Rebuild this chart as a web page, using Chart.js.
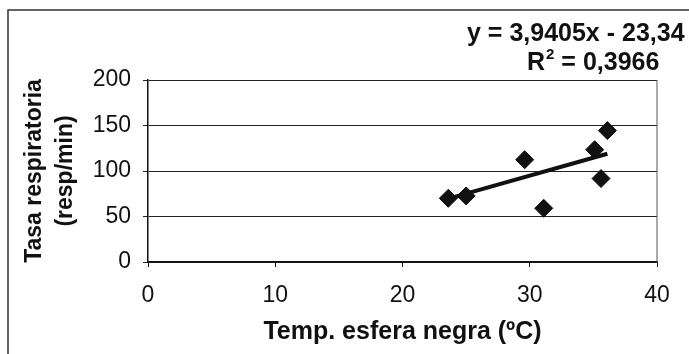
<!DOCTYPE html>
<html>
<head>
<meta charset="utf-8">
<script src="https://cdn.jsdelivr.net/npm/chart.js@4.4.1/dist/chart.umd.min.js"></script>
<style>
  html, body { margin: 0; padding: 0; background: #fff; }
  #wrap { width: 689px; height: 354px; position: relative; }
</style>
</head>
<body>
<div id="wrap"><canvas id="chart" width="689" height="354"></canvas></div>
<script>
// Temp. esfera negra (ºC) vs tasa respiratoria (resp/min)
const tempValues = [23.6, 25.0, 29.6, 31.1, 35.1, 35.6, 36.1];
const rateValues = [70, 72.6, 112.4, 59, 123.4, 91.7, 144.4];

// trendline as printed on the chart
const trendSlope = 3.9405;
const trendIntercept = -23.346;
const equationLabel = 'y = 3,9405x - 23,34';
const r2Label = '0,3966';

const xTicks = [0, 10, 20, 30, 40];
const yTicks = [0, 50, 100, 150, 200];

const FONT = '"Liberation Sans", Arial, sans-serif';
const INK = '#111';

const points = tempValues.map((x, i) => ({ x, y: rateValues[i] }));
const xMin = Math.min(...tempValues);
const xMax = Math.max(...tempValues);
const trend = [xMin, xMax].map(x => ({ x, y: trendSlope * x + trendIntercept }));

// outer frame, plot border and the equation label
const decorations = {
  id: 'decorations',
  beforeDraw(chart) {
    const { ctx } = chart;
    ctx.save();
    ctx.fillStyle = '#fff';
    ctx.fillRect(0, 0, chart.width, chart.height);
    ctx.strokeStyle = '#333';
    ctx.lineWidth = 1.5;
    ctx.beginPath();
    ctx.moveTo(8, chart.height);
    ctx.lineTo(8, 10);
    ctx.lineTo(chart.width, 10);
    ctx.stroke();
    ctx.restore();
  },
  afterDatasetsDraw(chart) {
    const { ctx, chartArea: a } = chart;
    ctx.save();
    ctx.strokeStyle = '#555';
    ctx.lineWidth = 1;
    ctx.beginPath();
    ctx.moveTo(a.right, a.top);
    ctx.lineTo(a.right, a.bottom);
    ctx.stroke();

    ctx.fillStyle = INK;
    ctx.textBaseline = 'middle';
    ctx.textAlign = 'left';
    ctx.font = 'bold 25px ' + FONT;
    ctx.fillText(equationLabel, 467, 34);

    let x = 527;
    ctx.fillText('R', x, 63);
    x += ctx.measureText('R').width;
    ctx.font = 'bold 15px ' + FONT;
    ctx.fillText('2', x + 1, 55);
    x += ctx.measureText('2').width + 1;
    ctx.font = 'bold 25px ' + FONT;
    ctx.fillText(' = ' + r2Label, x, 63);
    ctx.restore();
  }
};

new Chart(document.getElementById('chart'), {
  type: 'scatter',
  data: {
    datasets: [
      {
        data: points,
        pointStyle: 'rectRot',
        pointRadius: 9,
        pointHoverRadius: 9,
        backgroundColor: INK,
        borderColor: INK,
        borderWidth: 1,
        order: 1
      },
      {
        type: 'line',
        data: trend,
        borderColor: INK,
        borderWidth: 4,
        pointRadius: 0,
        fill: false,
        order: 2
      }
    ]
  },
  options: {
    responsive: false,
    animation: false,
    events: [],
    layout: { padding: { top: 80, right: 32, left: 0, bottom: 0 } },
    plugins: { legend: { display: false }, tooltip: { enabled: false } },
    scales: {
      x: {
        type: 'linear',
        min: 0,
        max: 40,
        afterBuildTicks: s => { s.ticks = xTicks.map(v => ({ value: v })); },
        afterFit: s => { s.height = 92; },
        border: { color: INK, width: 1.5 },
        grid: { drawOnChartArea: false, drawTicks: true, tickLength: 5, color: INK },
        ticks: { color: INK, padding: 15, maxRotation: 0, font: { family: FONT, size: 23 } },
        title: {
          display: true,
          text: 'Temp. esfera negra (ºC)',
          color: INK,
          padding: { top: 0, bottom: 7 },
          font: { family: FONT, size: 25, weight: 'bold' }
        }
      },
      y: {
        type: 'linear',
        min: 0,
        max: 200,
        afterBuildTicks: s => { s.ticks = yTicks.map(v => ({ value: v })); },
        afterFit: s => { s.width = 148; },
        border: { color: INK, width: 1.5 },
        grid: { color: '#222', lineWidth: 1, drawTicks: true, tickLength: 5 },
        ticks: { color: INK, padding: 12, font: { family: FONT, size: 23 } },
        title: {
          display: true,
          text: ['Tasa respiratoria', '(resp/min)'],
          color: INK,
          padding: { top: 19, bottom: 0 },
          font: { family: FONT, size: 23, weight: 'bold', lineHeight: 1.35 }
        }
      }
    }
  },
  plugins: [decorations]
});
</script>
</body>
</html>
